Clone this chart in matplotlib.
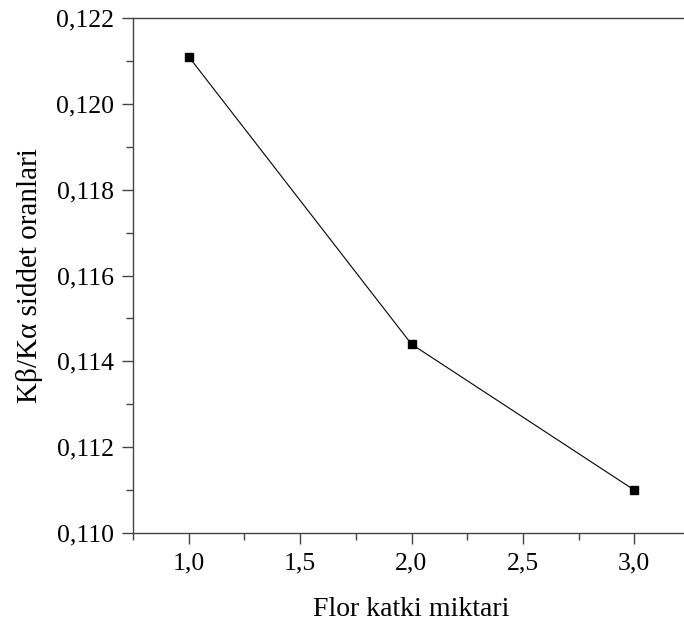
import matplotlib
matplotlib.use("Agg")
import matplotlib.pyplot as plt
from matplotlib.ticker import MultipleLocator, FuncFormatter

x_values = [1.0, 2.0, 3.0]
y_values = [0.1211, 0.1144, 0.1110]
x_label = "Flor katki miktari"
y_label = "Kβ/Kα siddet oranlari"

plt.rcParams['font.family'] = ['Liberation Serif', 'DejaVu Serif']

fig = plt.figure(figsize=(6.84, 6.28), dpi=100)
ax = fig.add_axes([133/684, 95/628, 557/684, 515/628])

ax.plot(x_values, y_values, color='black', lw=0.8, marker='s', markersize=6,
        markerfacecolor='black', markeredgecolor='black')

ax.set_xlim(0.75, 3.25)
ax.set_ylim(0.110, 0.122)

ax.xaxis.set_major_locator(MultipleLocator(0.5))
ax.xaxis.set_minor_locator(MultipleLocator(0.25))
ax.yaxis.set_major_locator(MultipleLocator(0.002))
ax.yaxis.set_minor_locator(MultipleLocator(0.001))
ax.xaxis.set_major_formatter(FuncFormatter(lambda v, p: f"{v:.1f}".replace('.', ',')))
ax.yaxis.set_major_formatter(FuncFormatter(lambda v, p: f"{v:.3f}".replace('.', ',')))

spine_color = '#444444'
for s in ['left', 'bottom', 'top']:
    ax.spines[s].set_color(spine_color)
    ax.spines[s].set_linewidth(1.0)
ax.spines['right'].set_visible(False)

ax.tick_params(which='major', direction='out', length=8, width=1, color=spine_color,
               labelsize=18.5)
ax.tick_params(axis='x', which='major', pad=6)
ax.tick_params(axis='y', which='major', pad=6)
ax.tick_params(which='minor', direction='out', length=5, width=1, color=spine_color)
ax.tick_params(top=False, right=False, which='both')

ax.set_xlabel(x_label, fontsize=20)
ax.set_ylabel(y_label, fontsize=21)
ax.xaxis.set_label_coords(0.5, -(610 - 533) / 515)
ax.xaxis.label.set_va('center')
ax.yaxis.set_label_coords(-(133 - 30) / 557, 0.5)
ax.yaxis.label.set_va('center')

fig.savefig("out.png", dpi=100)
